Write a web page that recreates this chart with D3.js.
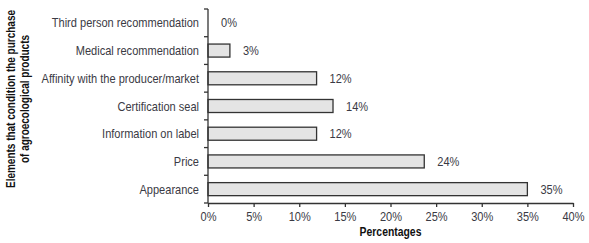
<!DOCTYPE html>
<html>
<head>
<meta charset="utf-8">
<script src="https://cdn.jsdelivr.net/npm/d3@7"></script>
<style>
  html, body { margin: 0; padding: 0; background: #fff; }
  svg { display: block; }
  text { font-family: "Liberation Sans", Arial, sans-serif; }
</style>
</head>
<body>
<svg id="chart" width="589" height="243"></svg>
<script>
const categories = [
  "Third person recommendation",
  "Medical recommendation",
  "Affinity with the producer/market",
  "Certification seal",
  "Information on label",
  "Price",
  "Appearance"
];
const values = [0, 2.4, 11.9, 13.7, 11.9, 23.7, 35.0];
const valueLabels = ["0%", "3%", "12%", "14%", "12%", "24%", "35%"];
const xTicks = [0, 5, 10, 15, 20, 25, 30, 35, 40];
const yTitleLines = ["Elements that condition the purchase", "of agroecological products"];
const xTitle = "Percentages";

(function () {
const svg = d3.select("#chart");
const mLeft = 208, mRight = 573, mTop = 9, mBottom = 203;
const textColor = "#3a3a44";
const axisColor = "#333";
const narrow = 0.85;
const fs = 13;

const x = d3.scaleLinear().domain([0, 40]).range([mLeft, mRight]);
const y = d3.scaleBand().domain(categories).range([mTop, mBottom]).paddingInner(0.53).paddingOuter(0.265);

// bars
svg.append("g").selectAll("rect").data(categories).join("rect")
  .attr("x", x(0))
  .attr("y", d => y(d))
  .attr("width", (d, i) => x(values[i]) - x(0))
  .attr("height", y.bandwidth())
  .attr("fill", "#e4e4e4")
  .attr("stroke", "#333")
  .attr("stroke-width", 1.3);

// value labels
svg.append("g").selectAll("text").data(categories).join("text")
  .attr("transform", (d, i) => `translate(${x(values[i]) + 13},${y(d) + y.bandwidth() / 2}) scale(${narrow},1)`)
  .attr("dy", "0.35em")
  .attr("font-size", fs)
  .attr("fill", textColor)
  .text((d, i) => valueLabels[i]);

// y axis
const step = y.step();
const yAxis = svg.append("g");
yAxis.append("line")
  .attr("x1", mLeft).attr("x2", mLeft).attr("y1", mTop).attr("y2", mBottom)
  .attr("stroke", axisColor).attr("stroke-width", 1.3);
const bounds = d3.range(categories.length + 1).map(i => mTop + i * step);
yAxis.selectAll("line.tick").data(bounds).join("line")
  .attr("class", "tick")
  .attr("x1", mLeft - 4).attr("x2", mLeft)
  .attr("y1", d => d).attr("y2", d => d)
  .attr("stroke", axisColor).attr("stroke-width", 1.3);
yAxis.selectAll("text").data(categories).join("text")
  .attr("transform", d => `translate(${mLeft - 9},${y(d) + y.bandwidth() / 2}) scale(${narrow},1)`)
  .attr("dy", "0.35em")
  .attr("text-anchor", "end")
  .attr("font-size", fs)
  .attr("fill", textColor)
  .text(d => d);

// x axis
const xAxis = svg.append("g").attr("transform", `translate(0,${mBottom})`)
  .call(d3.axisBottom(x).tickValues(xTicks).tickFormat(d => d + "%").tickSize(4).tickSizeOuter(0));
xAxis.select(".domain").attr("stroke", axisColor).attr("stroke-width", 1.3);
xAxis.selectAll(".tick line").attr("stroke", axisColor).attr("stroke-width", 1.3);
xAxis.selectAll(".tick text")
  .attr("font-family", "Liberation Sans, Arial, sans-serif")
  .attr("font-size", fs).attr("fill", textColor)
  .attr("y", 0).attr("dy", "0.35em")
  .attr("transform", `translate(0,13) scale(${narrow},1)`);

// x title
svg.append("text")
  .attr("transform", `translate(${(mLeft + mRight) / 2},236) scale(0.8,1)`)
  .attr("text-anchor", "middle")
  .attr("font-size", 13)
  .attr("font-weight", "bold")
  .attr("fill", "#111")
  .text(xTitle);

// y title
const yt = svg.append("text")
  .attr("transform", `translate(0,99) rotate(-90) scale(0.8,1)`)
  .attr("text-anchor", "middle")
  .attr("font-size", 12.5)
  .attr("font-weight", "bold")
  .attr("fill", "#111");
yTitleLines.forEach((line, i) => {
  yt.append("tspan").attr("x", 0).attr("y", 15 + i * 14).text(line);
});
})();
</script>
</body>
</html>
